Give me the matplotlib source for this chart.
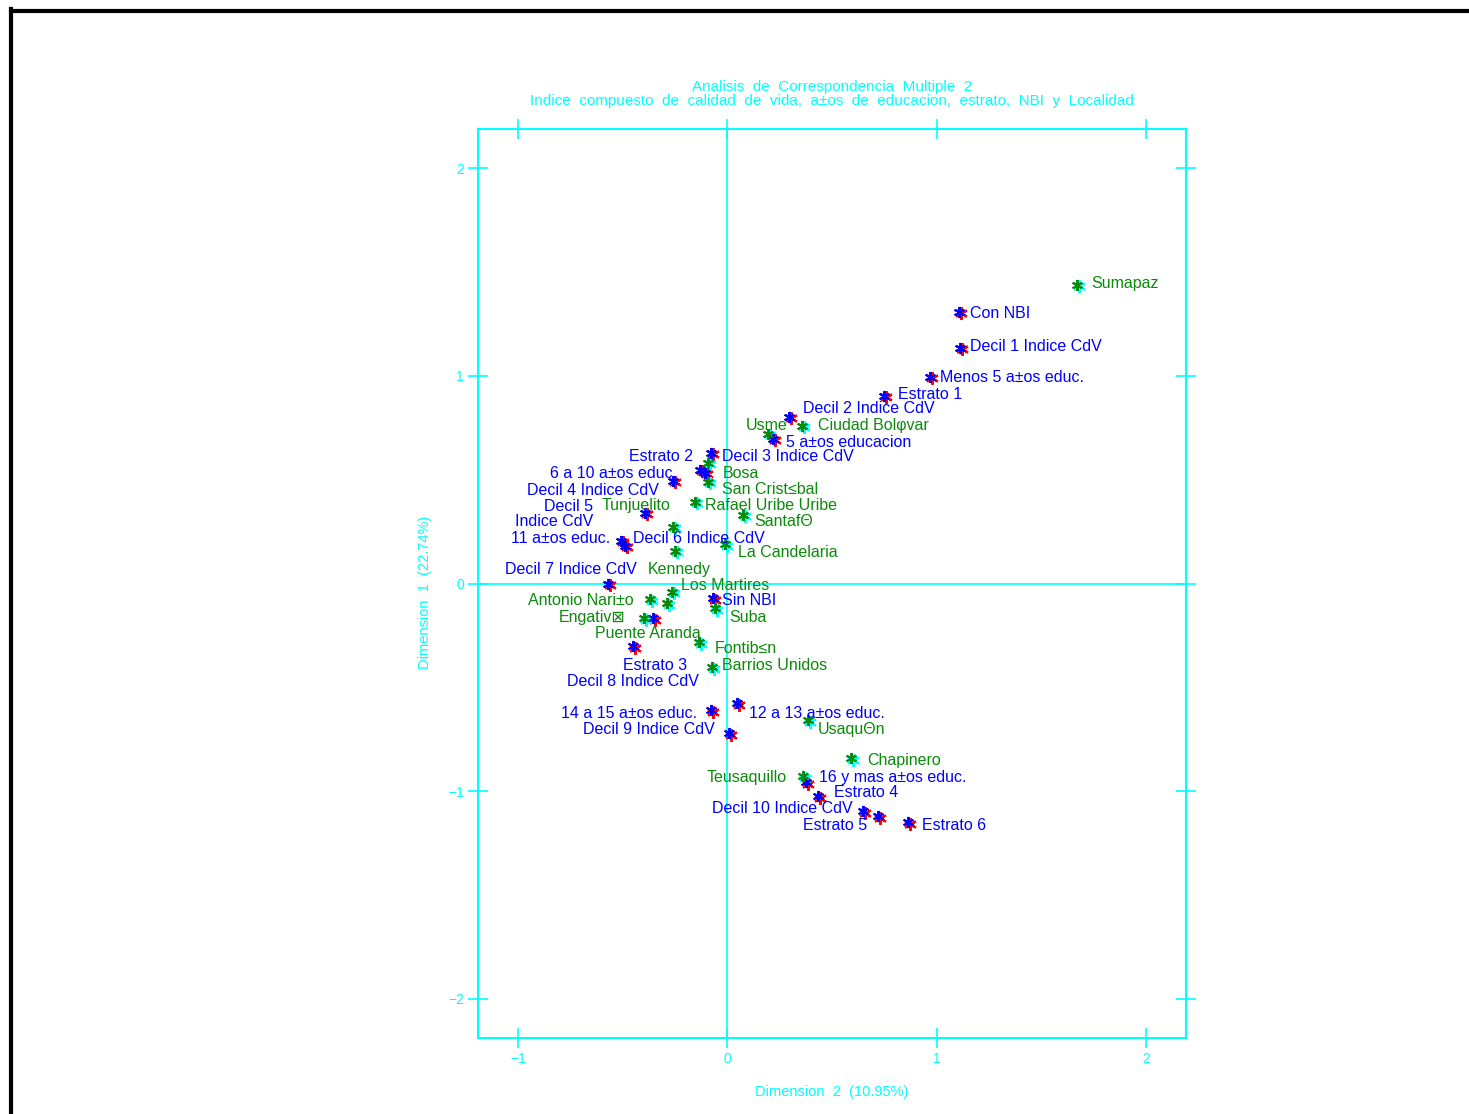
import matplotlib
matplotlib.use("Agg")
import matplotlib.pyplot as plt
from matplotlib.lines import Line2D
from matplotlib.transforms import offset_copy

plt.rcParams['font.family'] = ['Liberation Sans', 'DejaVu Sans']

# categorias (estrato, decil, educacion, NBI)
cat_names = ["Con NBI", "Decil 1 Indice CdV", "Menos 5 a±os educ.", "Estrato 1",
             "Decil 2 Indice CdV", "5 a±os educacion", "Estrato 2", "Decil 3 Indice CdV",
             "Decil 4 Indice CdV", "6 a 10 a±os educ.", "Decil 5\nIndice CdV", "11 a±os educ.",
             "Decil 6 Indice CdV", "Decil 7 Indice CdV", "Sin NBI", "Decil 8 Indice CdV",
             "Estrato 3", "12 a 13 a±os educ.", "14 a 15 a±os educ.", "Decil 9 Indice CdV",
             "16 y mas a±os educ.", "Estrato 4", "Decil 10 Indice CdV", "Estrato 5", "Estrato 6"]
cat_dim2 = [1.107, 1.112, 0.969, 0.749, 0.296, 0.220, -0.076, -0.129, -0.105, -0.258,
            -0.391, -0.506, -0.487, -0.568, -0.067, -0.353, -0.449, 0.048, -0.076, 0.010,
            0.377, 0.434, 0.649, 0.721, 0.864]
cat_dim1 = [1.309, 1.136, 0.996, 0.905, 0.804, 0.698, 0.631, 0.549, 0.534, 0.496,
            0.342, 0.207, 0.183, 0.000, -0.072, -0.168, -0.303, -0.578, -0.611, -0.722,
            -0.958, -1.025, -1.097, -1.122, -1.150]
# donde quedan las etiquetas
cat_lab_x = [1.160, 1.160, 1.017, 0.816, 0.363, 0.282, -0.162, -0.024, -0.329, -0.239,
             -0.640, -0.558, -0.449, -0.434, -0.024, -0.134, -0.191, 0.105, -0.143, -0.062,
             0.439, 0.511, 0.597, 0.668, 0.931]
cat_lab_y = [1.300, 1.141, 0.992, 0.910, 0.842, 0.679, 0.611, 0.611, 0.448, 0.529,
             0.337, 0.217, 0.217, 0.067, -0.082, -0.472, -0.395, -0.626, -0.626, -0.703,
             -0.934, -1.006, -1.083, -1.165, -1.165]
cat_ha = ["left", "left", "left", "left", "left", "left", "right", "left", "right", "right",
          "right", "right", "left", "right", "left", "right", "right", "left", "right", "right",
          "left", "left", "right", "right", "left"]

# localidades
loc_names = ["Sumapaz", "Ciudad Bolφvar", "Usme", "Bosa", "San Crist≤bal", "Rafael Uribe Uribe",
             "SantafΘ", "Tunjuelito", "La Candelaria", "Kennedy", "Los Martires",
             "Antonio Nari±o", "Puente Aranda", "Suba", "Engativ\u22a0", "Fontib≤n",
             "Barrios Unidos", "UsaquΘn", "Chapinero", "Teusaquillo"]
loc_dim2 = [1.671, 0.358, 0.196, -0.091, -0.091, -0.153, 0.076, -0.258, -0.010, -0.248,
            -0.263, -0.368, -0.286, -0.057, -0.396, -0.134, -0.072, 0.387, 0.592, 0.363]
loc_dim1 = [1.439, 0.761, 0.722, 0.582, 0.491, 0.395, 0.332, 0.274, 0.188, 0.159,
            -0.039, -0.077, -0.096, -0.120, -0.168, -0.284, -0.404, -0.659, -0.842, -0.929]
loc_lab_x = [1.737, 0.434, 0.287, -0.024, -0.024, -0.105, 0.129, -0.272, 0.053, -0.382,
             -0.220, -0.449, -0.129, 0.010, -0.487, -0.062, -0.024, 0.434, 0.668, 0.282]
loc_lab_y = [1.444, 0.761, 0.761, 0.529, 0.452, 0.375, 0.298, 0.375, 0.149, 0.067,
             -0.010, -0.082, -0.241, -0.164, -0.164, -0.313, -0.395, -0.703, -0.852, -0.934]
loc_ha = ["left", "left", "right", "left", "left", "left", "left", "right", "left", "left",
          "left", "right", "right", "left", "right", "left", "left", "left", "left", "right"]

ticks = [-2, -1, 0, 1, 2]
cyan = "#00ffff"
blue = "#0000ff"
green = "#0a8a0a"

fig = plt.figure(figsize=(14.69, 11.14), dpi=100)
ax = fig.add_axes([0.3254, 0.0682, 0.4820, 0.8160])

ax.axhline(0, color=cyan, lw=1.2, zorder=1)
ax.axvline(0, color=cyan, lw=1.2, zorder=1)

star = (6, 2, 0)
sombra = offset_copy(ax.transData, fig=fig, x=1.2, y=-1.0, units='points')
ax.plot(cat_dim2, cat_dim1, ls="none", marker=star, ms=9, mew=1.6, color="red",
        transform=sombra, zorder=3)
ax.plot(cat_dim2, cat_dim1, ls="none", marker=star, ms=8, mew=1.4, color=blue, zorder=4)
ax.plot(loc_dim2, loc_dim1, ls="none", marker=star, ms=9, mew=1.6, color=cyan,
        transform=sombra, zorder=3)
ax.plot(loc_dim2, loc_dim1, ls="none", marker=star, ms=8, mew=1.4, color=green, zorder=4)

for i in range(len(cat_names)):
    ax.text(cat_lab_x[i], cat_lab_y[i], cat_names[i], color=blue, fontsize=11.5,
            ha=cat_ha[i], va="center", multialignment=cat_ha[i], linespacing=1.0, zorder=5)
for i in range(len(loc_names)):
    ax.text(loc_lab_x[i], loc_lab_y[i], loc_names[i], color=green, fontsize=11.5,
            ha=loc_ha[i], va="center", zorder=5)

ax.set_xlim(-1.19, 2.19)
ax.set_ylim(-2.19, 2.19)
ax.set_xticks([-1, 0, 1, 2])
ax.set_yticks(ticks)
ax.tick_params(direction="inout", length=14, width=1.2, color=cyan, labelcolor=cyan,
               labelsize=10, top=True, right=True, pad=3)
for s in ax.spines.values():
    s.set_color(cyan)
    s.set_linewidth(1.5)

ax.set_xlabel("Dimension  2  (10.95%)", color=cyan, fontsize=10.5, labelpad=14)
ax.set_ylabel("Dimension  1  (22.74%)", color=cyan, fontsize=10.5, labelpad=4)
ax.yaxis.set_label_coords(-0.065, 0.49)
ax.set_title("Analisis  de  Correspondencia  Multiple  2\n"
             "Indice  compuesto  de  calidad  de  vida,  a±os  de  educacion,  estrato,  NBI  y  Localidad",
             color=cyan, fontsize=11, linespacing=1.0, pad=17)

# marco negro
fig.add_artist(Line2D([10.5 / 1469, 1.0], [1 - 11 / 1114, 1 - 11 / 1114], color="black", lw=3))
fig.add_artist(Line2D([10.5 / 1469, 10.5 / 1469], [0.0, 1 - 9 / 1114], color="black", lw=3))

fig.savefig("out.png", dpi=100)
